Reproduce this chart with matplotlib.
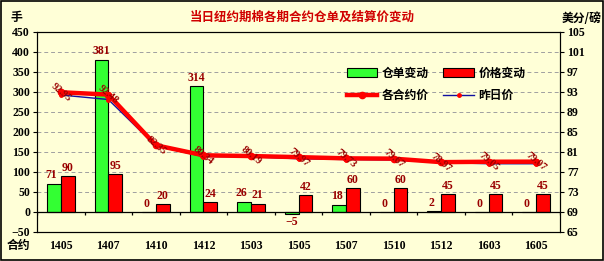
import numpy as np
import matplotlib.pyplot as plt
from matplotlib.patches import Patch
from matplotlib.lines import Line2D

plt.rcParams['font.family'] = ['Liberation Serif', 'Noto Sans CJK SC']
plt.rcParams['font.weight'] = 'bold'

# data
contracts = ['1405', '1407', '1410', '1412', '1503', '1505', '1507', '1510', '1512', '1603', '1605']
warrant_chg = [71, 381, 0, 314, 26, -5, 18, 0, 2, 0, 0]
price_chg = [90, 95, 20, 24, 21, 42, 60, 60, 45, 45, 45]
settle = [92.95, 92.48, 82.35, 80.34, 80.19, 79.97, 79.73, 79.67, 78.97, 79.05, 79.07]
prev_settle = [92.40, 91.50, 82.20, 80.10, 80.05, 79.65, 79.50, 79.40, 78.90, 78.65, 78.65]

bg = '#FFFFD7'
dark_red = '#990000'
cjk = ['Noto Sans CJK SC', 'DejaVu Sans']

dpi = 100
fig = plt.figure(figsize=(604 / dpi, 261 / dpi), dpi=dpi, facecolor=bg)
ax = fig.add_axes([37 / 604, 1 - 232 / 261, (560 - 37) / 604, 200 / 261])
ax.set_facecolor(bg)

x = np.arange(len(contracts))
w = 0.29
ax.bar(x - w / 2, warrant_chg, w, color='#33FF33', edgecolor='black', linewidth=0.8, zorder=3)
ax.bar(x + w / 2, price_chg, w, color='#FF0000', edgecolor='black', linewidth=0.8, zorder=3)

for i in range(len(contracts)):
    v = warrant_chg[i]
    if v < 0:
        ax.text(x[i] - w / 2, v - 6, str(v).replace('-', '−'), ha='center', va='top',
                color=dark_red, fontsize=8.5, zorder=6)
    else:
        ax.text(x[i] - w / 2 - (0.05 if v < 100 else 0), v + 6, str(v), ha='center', va='bottom',
                color=dark_red, fontsize=8.5, zorder=6)
    ax.text(x[i] + w / 2, price_chg[i] + 6, str(price_chg[i]), ha='center', va='bottom',
            color=dark_red, fontsize=8.5, zorder=6)

ax.set_ylim(-50, 450)
ax.set_yticks(np.arange(-50, 451, 50))
ax.set_yticklabels([str(t).replace('-', '−') for t in range(-50, 451, 50)])
ax.set_xlim(-0.5, len(contracts) - 0.5)
ax.set_xticks(x)
ax.set_xticklabels(contracts)
ax.tick_params(axis='x', length=0, pad=6, labelsize=8.5)
ax.tick_params(axis='y', length=3, labelsize=8.5, pad=2)
ax.grid(axis='y', color='#A0A0A0', linestyle=(0, (4, 3)), linewidth=0.7, zorder=0)
ax.axhline(0, color='black', linewidth=0.9, zorder=4)
ax.vlines(np.arange(-0.5, len(contracts)), -7, 0, color='black', linewidth=0.9, zorder=4)
for s in ax.spines.values():
    s.set_color('black')
    s.set_linewidth(0.8)

ax2 = ax.twinx()
ax2.set_ylim(65, 105)
ax2.set_yticks(np.arange(65, 106, 4))
ax2.tick_params(axis='y', length=3, labelsize=8.5, pad=2)
ax2.plot(x, prev_settle, color='#1010A0', linewidth=1.0, marker='o', markersize=2.5,
         markerfacecolor='red', markeredgecolor='red', zorder=4)
ax2.plot(x, settle, color='#FF0000', linewidth=3.2, marker='o', markersize=4.5,
         markerfacecolor='red', markeredgecolor='red', zorder=5)
for i in range(len(contracts)):
    ax2.text(x[i], settle[i], f'{settle[i]:.2f}', rotation=-40, ha='center', va='center',
             color=dark_red, fontsize=7.5, rotation_mode='anchor', zorder=6)

fig.text(0.5, 1 - 17 / 261, '当日纽约期棉各期合约仓单及结算价变动', ha='center', va='center',
         color='#D00000', fontsize=9, fontweight='bold', family=cjk)
fig.text(16 / 604, 1 - 18 / 261, '手', ha='center', va='center', fontsize=8.5,
         fontweight='bold', family=cjk)
fig.text(582 / 604, 1 - 18 / 261, '美分/磅', ha='center', va='center', fontsize=8.5,
         fontweight='bold', family=cjk)
fig.text(18 / 604, 1 - 245 / 261, '合约', ha='center', va='center', fontsize=8.5,
         fontweight='bold', family=cjk)

# legend fills column-major, so order for rows: [仓单, 价格] / [各合约价, 昨日价]
h_warrant = Patch(facecolor='#33FF33', edgecolor='black', linewidth=0.8)
h_price = Patch(facecolor='#FF0000', edgecolor='black', linewidth=0.8)
h_settle = Line2D([], [], color='#FF0000', linewidth=3.2, marker='o', markersize=4.5)
h_prev = Line2D([], [], color='#1010A0', linewidth=1.0, marker='o', markersize=2.5,
                markerfacecolor='red', markeredgecolor='red')
leg = fig.legend([h_warrant, h_settle, h_price, h_prev],
                 ['仓单变动', '各合约价', '价格变动', '昨日价'], ncol=2, loc='upper left',
                 bbox_to_anchor=(336 / 604, 1 - 56 / 261), frameon=False,
                 prop={'family': cjk, 'weight': 'bold', 'size': 8.5},
                 handlelength=2.6, handleheight=0.9, columnspacing=1.2,
                 labelspacing=0.8, handletextpad=0.4)

fig.patches.append(plt.Rectangle((0.001, 0.002), 0.997, 0.995, transform=fig.transFigure,
                                 fill=False, edgecolor='black', linewidth=1.2))
fig.savefig('out.png', dpi=dpi, facecolor=bg)
